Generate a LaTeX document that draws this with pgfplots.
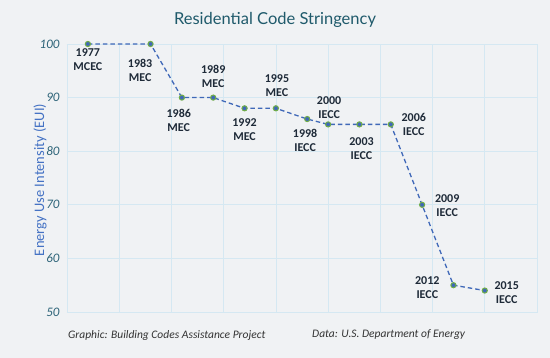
\documentclass[border=0pt]{standalone}
\usepackage{pgfplots}
\pgfplotsset{compat=1.18}
\usepackage{fontspec}
\setmainfont{Carlito}
\newfontfamily\titlefont{Lato}
\definecolor{bg}{HTML}{F0F2F4}
\definecolor{gridc}{HTML}{D5E8F2}
\definecolor{titlec}{HTML}{1F5A6B}
\definecolor{tickc}{HTML}{2C6378}
\definecolor{ylab}{HTML}{4472C4}
\definecolor{linec}{HTML}{3F68B8}
\definecolor{markg}{HTML}{70AD47}
\definecolor{lblc}{HTML}{1E2A38}
\definecolor{footc}{HTML}{333333}
\begin{document}
\begin{tikzpicture}[x=1pt,y=1pt]
\fill[bg] (0,0) rectangle (550,358);
\begin{axis}[
  at={(67pt,46pt)}, anchor=south west,
  width=470pt, height=268pt, scale only axis,
  xmin=1975, xmax=2020, ymin=50, ymax=100,
  xtick={1975,1980,...,2020}, xticklabels={},
  ytick={50,60,...,100},
  major tick length=0pt,
  grid=major,
  grid style={gridc, line width=0.6pt},
  axis line style={gridc, line width=0.6pt},
  /pgf/number format/assume math mode=true,
  yticklabel style={font=\fontsize{13}{15}\selectfont\itshape, text=tickc, xshift=-4pt},
  clip=false,
]
\addplot[linec, dash pattern=on 4.5pt off 3pt, line width=1.3pt,
  mark=*, mark size=2.6pt, mark options={solid, fill=linec, draw=markg, line width=1pt}]
  coordinates {
  (1977,100) (1983,100) (1986,90) (1989,90) (1992,88) (1995,88) (1998,86)
  (2000,85) (2003,85) (2006,85) (2009,70) (2012,55) (2015,54)
  };
\tikzset{lbl/.style={align=center, font=\fontsize{12}{14}\selectfont\bfseries, text=lblc}}
\node[lbl] at (axis cs:1977.0,97.0) {1977\\MCEC};
\node[lbl] at (axis cs:1982.0,95.0) {1983\\MEC};
\node[lbl] at (axis cs:1985.7,85.8) {1986\\MEC};
\node[lbl] at (axis cs:1989.0,94.0) {1989\\MEC};
\node[lbl] at (axis cs:1992.0,84.0) {1992\\MEC};
\node[lbl] at (axis cs:1995.1,92.2) {1995\\MEC};
\node[lbl] at (axis cs:1997.8,82.1) {1998\\IECC};
\node[lbl] at (axis cs:2000.1,88.2) {2000\\IECC};
\node[lbl] at (axis cs:2003.2,80.4) {2003\\IECC};
\node[lbl] at (axis cs:2008.2,84.9) {2006\\IECC};
\node[lbl] at (axis cs:2011.4,69.8) {2009\\IECC};
\node[lbl] at (axis cs:2009.5,54.5) {2012\\IECC};
\node[lbl] at (axis cs:2017.1,53.7) {2015\\IECC};
\end{axis}
\node[text=titlec, font=\titlefont\fontsize{16.5}{19}\selectfont] at (275,338) {Residential Code Stringency};
\node[rotate=90, text=ylab, font=\fontsize{14.5}{16}\selectfont] at (40,178) {Energy Use Intensity (EUI)};
\node[anchor=west, inner sep=0pt, text=footc, font=\fontsize{11.5}{13}\selectfont\itshape] at (68,23) {Graphic: Building Codes Assistance Project};
\node[anchor=west, inner sep=0pt, text=footc, font=\fontsize{11.5}{13}\selectfont\itshape] at (312,23) {Data: U.S. Department of Energy};
\end{tikzpicture}
\end{document}
